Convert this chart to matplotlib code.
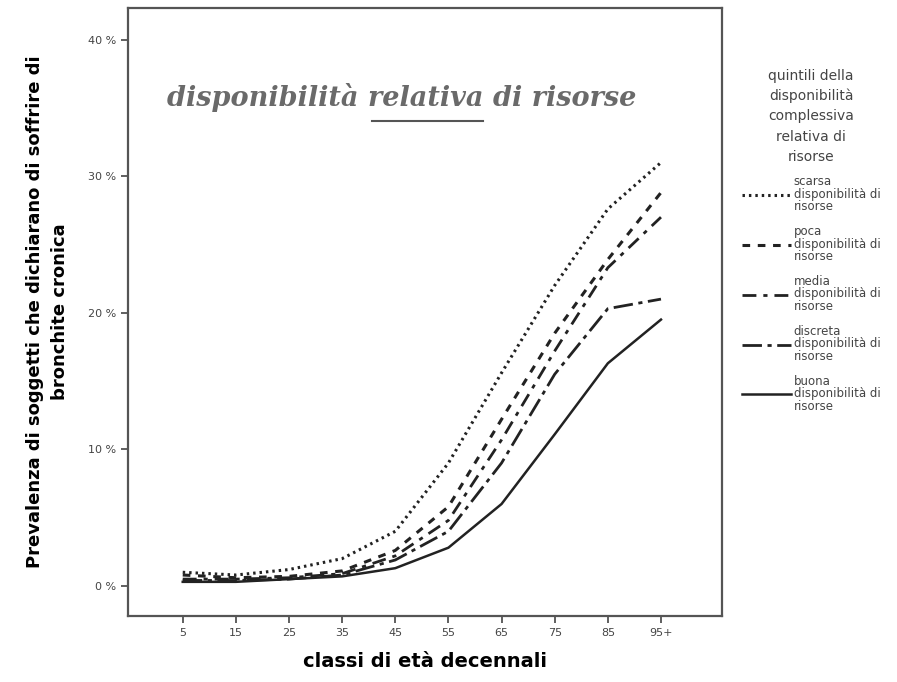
import matplotlib
matplotlib.use("Agg")
import matplotlib.pyplot as plt

categories = ["5", "15", "25", "35", "45", "55", "65", "75", "85", "95+"]
scarsa = [1.0, 0.8, 1.2, 2.0, 4.0, 9.0, 15.6, 22.0, 27.6, 31.0]
poca = [0.8, 0.6, 0.7, 1.1, 2.6, 5.8, 12.2, 18.5, 23.9, 28.8]
media = [0.5, 0.5, 0.6, 0.9, 2.2, 4.8, 10.7, 17.2, 23.3, 27.0]
discreta = [0.4, 0.4, 0.5, 0.8, 1.9, 4.0, 9.0, 15.5, 20.3, 21.0]
buona = [0.3, 0.3, 0.5, 0.7, 1.3, 2.8, 6.0, 11.1, 16.3, 19.5]

series_labels = ["scarsa\ndisponibilità di\nrisorse",
                 "poca\ndisponibilità di\nrisorse",
                 "media\ndisponibilità di\nrisorse",
                 "discreta\ndisponibilità di\nrisorse",
                 "buona\ndisponibilità di\nrisorse"]
yticks = [0, 10, 20, 30, 40]
ytick_labels = ["0 %", "10 %", "20 %", "30 %", "40 %"]

styles = [(0, (0.8, 1.3)), (0, (2.5, 2.5)), (0, (5, 2.5, 1.5, 2.5)), (0, (7, 2, 1.5, 2)), "-"]
widths = [2.2, 2.2, 2.0, 2.0, 1.8]

fig = plt.figure(figsize=(8.97, 6.82), dpi=100)
ax = fig.add_axes([0.1427, 0.0968, 0.6623, 0.8912])

x = list(range(len(categories)))
col = "#222222"
for vals, lab, ls, lw in zip([scarsa, poca, media, discreta, buona], series_labels, styles, widths):
    ax.plot(x, vals, linestyle=ls, color=col, lw=lw, label=lab)

ax.set_xlim(-1.03, 10.15)
ax.set_ylim(-2.2, 42.3)
ax.set_xticks(x)
ax.set_xticklabels(categories, fontsize=8, color="#444444")
ax.set_yticks(yticks)
ax.set_yticklabels(ytick_labels, fontsize=8, color="#444444")
ax.tick_params(direction="out", length=5, width=1.2, color="#444444")
for s in ax.spines.values():
    s.set_color("#555555")
    s.set_linewidth(1.6)

ax.set_xlabel("classi di età decennali", fontsize=14, fontweight="bold", labelpad=10)
ax.set_ylabel("Prevalenza di soggetti che dichiarano di soffrire di\nbronchite cronica",
              fontsize=13, fontweight="bold", labelpad=14, linespacing=1.45)

fig.text(0.448, 0.857, "disponibilità relativa di risorse", fontsize=19.5, fontweight="bold",
         style="italic", family="DejaVu Serif", color="#6a6a6a", ha="center", va="center")
fig.add_artist(plt.Line2D([0.415, 0.539], [0.823, 0.823], color="#555555", lw=1.5))

leg = fig.legend(loc="upper left", bbox_to_anchor=(0.815, 0.915), frameon=False,
                 title="quintili della\ndisponibilità\ncomplessiva\nrelativa di\nrisorse",
                 fontsize=8.5, title_fontsize=10, handlelength=4.2, handletextpad=0.2,
                 labelspacing=1.0)
leg.get_title().set_multialignment("center")
leg.get_title().set_color("#444444")
leg.get_title().set_linespacing(1.55)
for t in leg.get_texts():
    t.set_color("#444444")
    t.set_linespacing(0.95)

fig.savefig("out.png", dpi=100)
